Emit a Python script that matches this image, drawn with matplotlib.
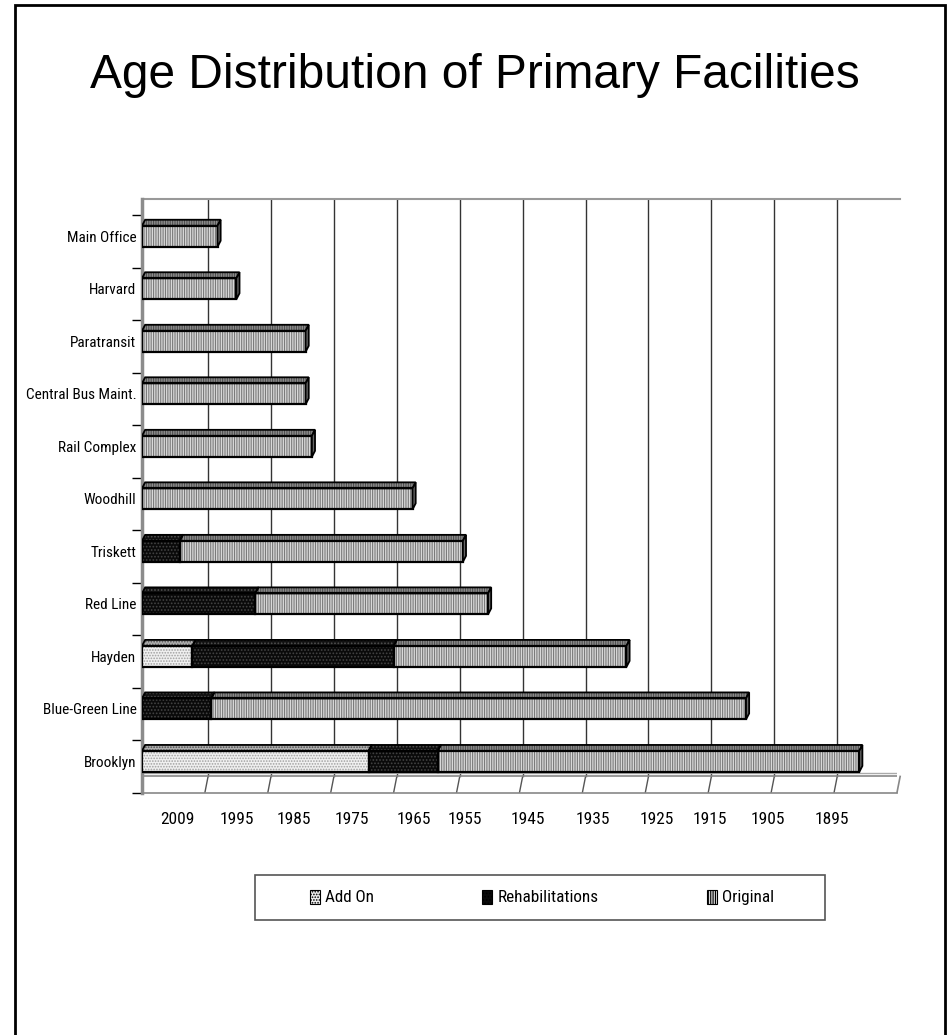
import matplotlib
matplotlib.use("Agg")
import matplotlib.pyplot as plt
from matplotlib import font_manager
from matplotlib.patches import Polygon, Rectangle, Patch

# facilities, bottom to top
categories = ["Brooklyn", "Blue-Green Line", "Hayden", "Red Line", "Triskett", "Woodhill",
              "Rail Complex", "Central Bus Maint.", "Paratransit", "Harvard", "Main Office"]
# age in years of each part
add_on = [36, 0, 8, 0, 0, 0, 0, 0, 0, 0, 0]
rehab = [11, 11, 32, 18, 6, 0, 0, 0, 0, 0, 0]
original = [67, 85, 37, 37, 45, 43, 27, 26, 26, 15, 12]

# year labels along the bottom (positions in years of age)
year_pos = [5.7, 15.1, 24.2, 33.3, 43.2, 51.3, 61.4, 71.7, 81.8, 90.3, 99.5, 109.6]
year_labels = ["2009", "1995", "1985", "1975", "1965", "1955", "1945", "1935", "1925", "1915", "1905", "1895"]
grid_years = list(range(10, 120, 10))

# look for an Arial Narrow-like face, else shrink the normal one
names = {f.name for f in font_manager.fontManager.ttflist}
narrow, shrink = "Liberation Sans", 0.84
for cand in ["Liberation Sans Narrow", "Arial Narrow", "Roboto Condensed", "Open Sans Condensed"]:
    if cand in names:
        narrow, shrink = cand, 1.0
        break
plt.rcParams["font.family"] = ["Liberation Sans", "DejaVu Sans"]
plt.rcParams["hatch.linewidth"] = 0.8

W, H = 949, 1035
fig = plt.figure(figsize=(W / 100, H / 100), dpi=100)
ax = fig.add_axes([142 / W, 1 - 793 / H, (897 - 142) / W, (793 - 199) / H])
ax.set_xlim(0, 120)
ax.set_ylim(-0.59, 10.71)

h = 0.40      # bar thickness
dx = 0.5      # depth offset in years
dy = 0.115    # depth offset in category units
back_y = -0.285
top_y = 10.71

# back wall grid and floor
for g in grid_years:
    ax.plot([g + dx, g + dx], [back_y, top_y], color="#333333", lw=1, zorder=1)
    ax.plot([g, g + dx], [-0.59, back_y], color="#555555", lw=1, zorder=1)
ax.plot([0.3, 120 + dx], [top_y - 0.005, top_y - 0.005], color="#999999", lw=1.5, zorder=1, clip_on=False)
ax.plot([120 + dx, 120 + dx], [back_y, top_y], color="#888888", lw=1.5, zorder=1)
ax.plot([0.3, 120 + dx], [back_y, back_y], color="#888888", lw=1.2, zorder=1)
ax.plot([0.3, 120 + dx], [back_y + 0.075, back_y + 0.075], color="#aaaaaa", lw=1, zorder=1)
ax.plot([120, 120 + dx], [-0.59, back_y], color="#888888", lw=1.2, zorder=1, clip_on=False)

styles = {
    "Add On": dict(face="#f0f0f0", hatch="......", hc="#a0a0a0", top="#b0b0b0"),
    "Rehabilitations": dict(face="#0a0a0a", hatch=".....", hc="#444444", top="#111111"),
    "Original": dict(face="#d9d9d9", hatch="|||||||", hc="#7a7a7a", top="#8e8e8e"),
}
series = [("Add On", add_on), ("Rehabilitations", rehab), ("Original", original)]

lefts = [0] * len(categories)
for name, vals in series:
    st = styles[name]
    for i, v in enumerate(vals):
        if v <= 0:
            continue
        l = lefts[i]
        ax.barh(i, v, left=l, height=h, color=st["face"], hatch=st["hatch"], edgecolor=st["hc"], lw=0, zorder=3)
        ax.barh(i, v, left=l, height=h, fill=False, edgecolor="black", lw=1.6, zorder=4)
        yt = i + h / 2
        top_face = [(l, yt), (l + v, yt), (l + v + dx, yt + dy), (l + dx, yt + dy)]
        ax.add_patch(Polygon(top_face, closed=True, facecolor=st["top"], hatch=st["hatch"],
                             edgecolor="#505050", lw=0, zorder=3))
        ax.add_patch(Polygon(top_face, closed=True, fill=False, edgecolor="black", lw=1.3, zorder=4))
        lefts[i] = l + v

# right end face of the whole bar
for i, r in enumerate(lefts):
    yb, yt = i - h / 2, i + h / 2
    ax.add_patch(Polygon([(r, yb), (r + dx, yb + dy), (r + dx, yt + dy), (r, yt)],
                         closed=True, facecolor="#666666", edgecolor="black", lw=1.3, zorder=4))

# spines and ticks
for s in ["top", "right"]:
    ax.spines[s].set_visible(False)
ax.spines["left"].set_color("#8c8c8c")
ax.spines["left"].set_linewidth(2.5)
ax.spines["bottom"].set_color("#888888")
ax.spines["bottom"].set_linewidth(1.2)

ax.set_yticks(range(len(categories)))
ax.set_yticklabels(categories, fontsize=11 * shrink, family=[narrow, "DejaVu Sans"])
ax.set_yticks([i + 0.4 for i in range(-1, len(categories))], minor=True)
ax.tick_params(axis="y", which="major", length=0, pad=4)
ax.tick_params(axis="y", which="minor", length=7, width=1, color="black")

ax.set_xticks(year_pos)
ax.set_xticklabels(year_labels, fontsize=12.5 * shrink, family=[narrow, "DejaVu Sans"])
ax.tick_params(axis="x", length=0, pad=14)

fig.text(0.5, 1 - 75 / H, "Age Distribution of Primary Facilities", fontsize=34.5,
         ha="center", va="center")

# legend: entries spread inside a fixed box
handles = [Patch(facecolor=styles[n]["face"], hatch=styles[n]["hatch"], edgecolor="black", lw=0.8)
           for n, _ in series]
fig.legend(handles, [n for n, _ in series], loc="center", ncol=3, mode="expand",
           bbox_to_anchor=(310 / W, 1 - 915 / H, (774 - 310) / W, 35 / H),
           bbox_transform=fig.transFigure, frameon=False,
           prop={"family": [narrow, "DejaVu Sans"], "size": 12.3 * shrink},
           handlelength=0.6, handleheight=0.9, handletextpad=0.3, borderpad=0,
           borderaxespad=0, columnspacing=2)
fig.add_artist(Rectangle((255 / W, 1 - 920 / H), (825 - 255) / W, 45 / H, transform=fig.transFigure,
                         fill=False, edgecolor="#555555", lw=1.2))

fig.add_artist(Rectangle((15 / W, -0.01), (945 - 15) / W, 1.01 - 5 / H, transform=fig.transFigure,
                         fill=False, edgecolor="black", lw=2))

fig.savefig("out.png", dpi=100)
